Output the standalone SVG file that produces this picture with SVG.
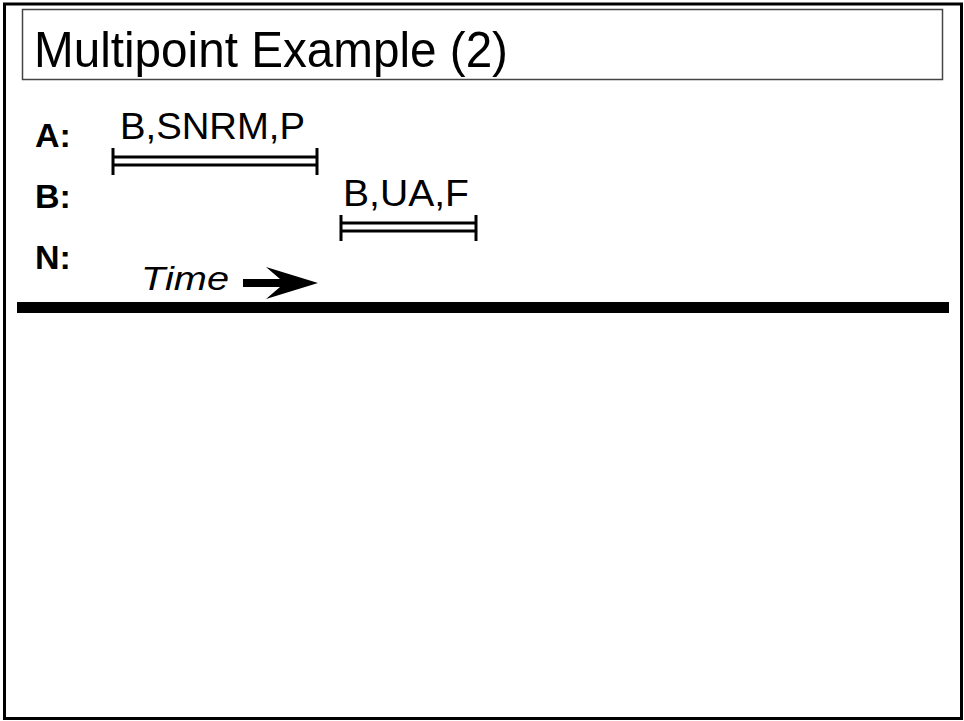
<svg xmlns="http://www.w3.org/2000/svg" width="964" height="721" viewBox="0 0 964 721">
<style>
.lbl{font-family:"Liberation Sans",Arial,sans-serif;font-weight:bold;font-size:34px;fill:#000}
.msg{font-family:"Liberation Sans",Arial,sans-serif;font-size:36px;fill:#000}
.bar{stroke:#000;stroke-width:3;fill:none}
</style>
<rect x="0" y="0" width="964" height="721" fill="#fff"/>
<rect id="frame" x="4.5" y="4" width="957" height="714.5" fill="none" stroke="#000" stroke-width="3"/>
<g id="title">
<rect x="22.5" y="9.5" width="920" height="70" fill="#fff" stroke="#444" stroke-width="1.5"/>
<text x="34" y="67" font-family="Liberation Sans, Arial, sans-serif" font-size="50" textLength="474" lengthAdjust="spacingAndGlyphs">Multipoint Example (2)</text>
</g>
<g id="label-A"><text class="lbl" x="35" y="147">A:</text></g>
<g id="label-B"><text class="lbl" x="35" y="208">B:</text></g>
<g id="label-N"><text class="lbl" x="35" y="269">N:</text></g>
<g id="connectors">
<g id="frame-A">
<text class="msg" x="120" y="139" textLength="185" lengthAdjust="spacingAndGlyphs">B,SNRM,P</text>
<path class="bar" d="M113,148V175M317,148V175M113,157H317M113,165H317"/>
</g>
<g id="frame-B">
<text class="msg" x="343" y="206" textLength="126" lengthAdjust="spacingAndGlyphs">B,UA,F</text>
<path class="bar" d="M341,215V241M476,215V241M341,223H476M341,231H476"/>
</g>
</g>
<g id="time">
<text x="141" y="290" font-family="Liberation Sans, Arial, sans-serif" font-style="italic" font-size="34" textLength="88" lengthAdjust="spacingAndGlyphs">Time</text>
<path d="M243,279 L280,279 L266,267 L318,283 L266,299 L280,287 L243,287 Z" fill="#000"/>
</g>
<g id="medium">
<rect x="17" y="302" width="932" height="11" fill="#000"/>
</g>
</svg>
